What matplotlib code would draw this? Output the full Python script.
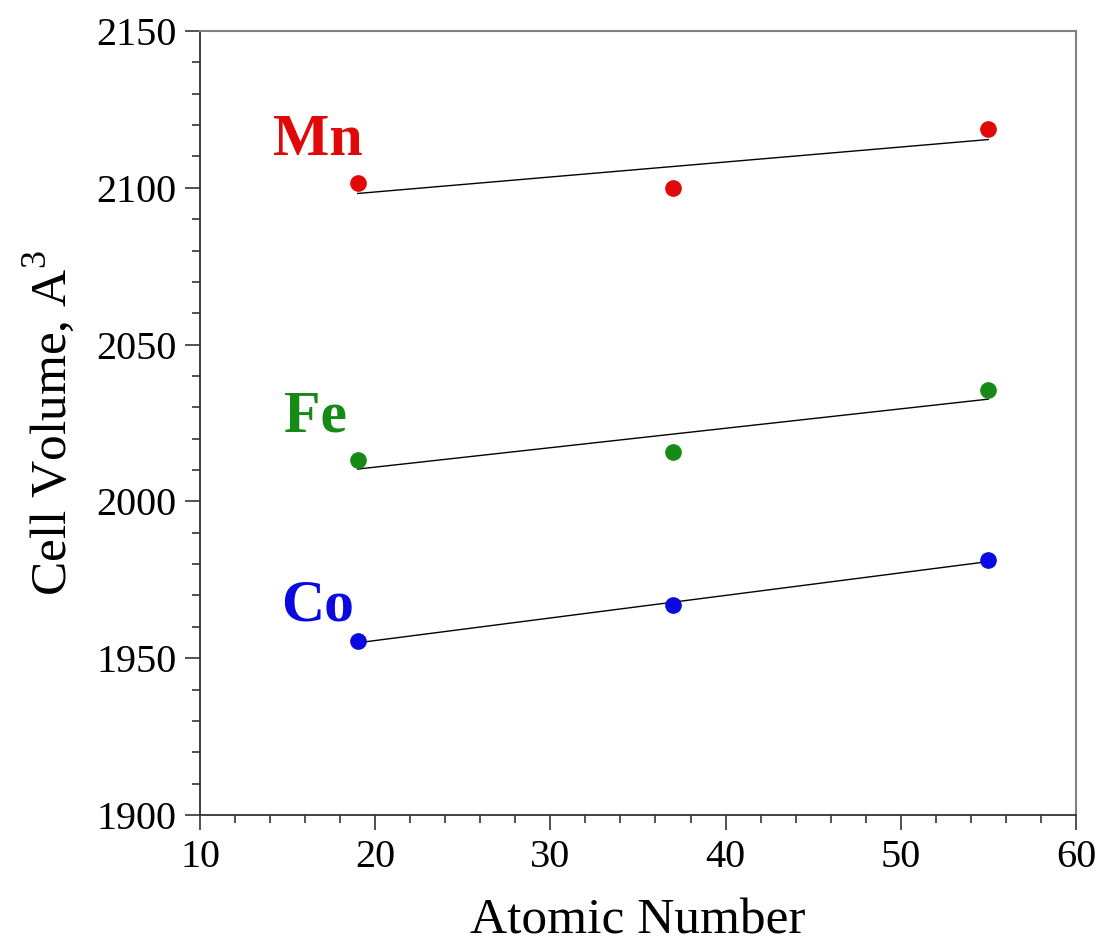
import numpy as np
import matplotlib.pyplot as plt
from matplotlib.ticker import MultipleLocator

plt.rcParams['font.family'] = ['Liberation Serif', 'DejaVu Serif']
plt.rcParams['mathtext.fontset'] = 'custom'
plt.rcParams['mathtext.rm'] = 'Liberation Serif'

# atomic number of the alkali cation
atomic_number = [19, 37, 55]

# cell volumes (A^3) for each transition metal
mn_volume = [2101.6, 2100.0, 2118.8]
fe_volume = [2013.1, 2015.9, 2035.4]
co_volume = [1955.4, 1966.9, 1981.3]

series = [
    ("Mn", mn_volume, "#e00808", (16.7, 2114.8)),
    ("Fe", fe_volume, "#168a16", (16.6, 2026.8)),
    ("Co", co_volume, "#0a0ae0", (16.7, 1966.5)),
]

fig = plt.figure(figsize=(10.99, 9.49), dpi=100)
ax = fig.add_axes([0.182, 0.1412, 0.797, 0.8261])

x = np.array(atomic_number)
for name, vol, color, (tx, ty) in series:
    # least-squares line through the three points
    slope, icpt = np.polyfit(x, vol, 1)
    ax.plot(x, slope * x + icpt, color="black", lw=1.0, zorder=2)
    ax.plot(x, vol, "o", color=color, ms=11, mec=color, zorder=3)
    ax.text(tx, ty, name, color=color, fontsize=43, fontweight="bold",
            ha="center", va="center")

ax.set_xlim(10, 60)
ax.set_ylim(1900, 2150)
ax.xaxis.set_major_locator(MultipleLocator(10))
ax.xaxis.set_minor_locator(MultipleLocator(2))
ax.yaxis.set_major_locator(MultipleLocator(50))
ax.yaxis.set_minor_locator(MultipleLocator(10))

ax.tick_params(which="both", direction="out", top=False, right=False,
               labelsize=29, colors="#333333", labelcolor="black", width=1.2)
ax.tick_params(which="major", length=11, pad=6)
ax.tick_params(which="minor", length=6)

for side in ["left", "bottom"]:
    ax.spines[side].set_color("#333333")
    ax.spines[side].set_linewidth(1.3)
for side in ["top", "right"]:
    ax.spines[side].set_color("#808080")
    ax.spines[side].set_linewidth(1.5)

ax.set_xlabel("Atomic Number", fontsize=37, labelpad=16)
ax.set_ylabel("Cell Volume, A$^{3}$", fontsize=37, labelpad=14)

fig.savefig("out.png", dpi=100)
